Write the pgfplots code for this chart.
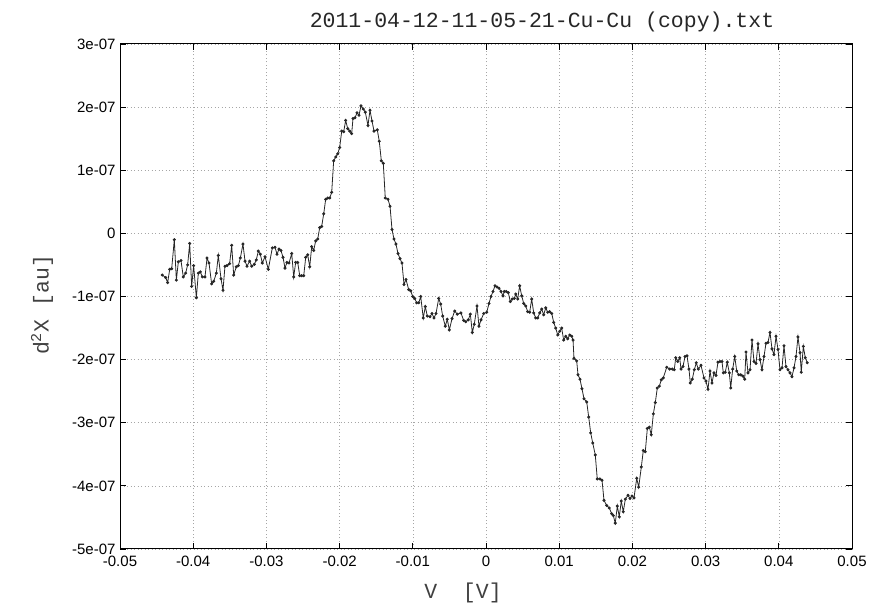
\documentclass[border=0pt]{standalone}
\usepackage{pgfplots}
\pgfplotsset{compat=1.18}
\usepackage{fontspec}
\setmainfont{Liberation Mono}
\newfontfamily\ticksf{Liberation Sans}
\pgfplotstableread{
x y
-0.04422 -0.66e-7
-0.04376 -0.70e-7
-0.04349 -0.78e-7
-0.04321 -0.57e-7
-0.04294 -0.56e-7
-0.04258 -0.10e-7
-0.04230 -0.74e-7
-0.04203 -0.45e-7
-0.04167 -0.43e-7
-0.04135 -0.69e-7
-0.04103 -0.63e-7
-0.04076 -0.50e-7
-0.04048 -0.16e-7
-0.04021 -0.84e-7
-0.03994 -0.51e-7
-0.03957 -1.02e-7
-0.03930 -0.63e-7
-0.03903 -0.61e-7
-0.03875 -0.69e-7
-0.03839 -0.69e-7
-0.03811 -0.39e-7
-0.03784 -0.47e-7
-0.03748 -0.80e-7
-0.03720 -0.76e-7
-0.03684 -0.63e-7
-0.03657 -0.35e-7
-0.03620 -0.72e-7
-0.03593 -0.90e-7
-0.03566 -0.52e-7
-0.03538 -0.51e-7
-0.03502 -0.48e-7
-0.03474 -0.19e-7
-0.03447 -0.66e-7
-0.03411 -0.53e-7
-0.03383 -0.51e-7
-0.03356 -0.39e-7
-0.03320 -0.17e-7
-0.03292 -0.44e-7
-0.03265 -0.52e-7
-0.03229 -0.44e-7
-0.03201 -0.52e-7
-0.03165 -0.49e-7
-0.03138 -0.42e-7
-0.03110 -0.28e-7
-0.03083 -0.33e-7
-0.03056 -0.47e-7
-0.03019 -0.37e-7
-0.02974 -0.57e-7
-0.02919 -0.23e-7
-0.02883 -0.22e-7
-0.02855 -0.33e-7
-0.02828 -0.25e-7
-0.02801 -0.27e-7
-0.02773 -0.38e-7
-0.02746 -0.55e-7
-0.02719 -0.46e-7
-0.02691 -0.47e-7
-0.02654 -0.32e-7
-0.02627 -0.69e-7
-0.02600 -0.46e-7
-0.02572 -0.46e-7
-0.02545 -0.67e-7
-0.02518 -0.67e-7
-0.02490 -0.67e-7
-0.02463 -0.38e-7
-0.02436 -0.34e-7
-0.02408 -0.53e-7
-0.02381 -0.21e-7
-0.02354 -0.27e-7
-0.02327 -0.12e-7
-0.02299 -0.09e-7
-0.02272 0.09e-7
-0.02245 0.11e-7
-0.02217 0.31e-7
-0.02190 0.54e-7
-0.02163 0.56e-7
-0.02135 0.56e-7
-0.02108 0.65e-7
-0.02081 1.15e-7
-0.02053 1.21e-7
-0.02026 1.26e-7
-0.01999 1.36e-7
-0.01971 1.62e-7
-0.01944 1.61e-7
-0.01917 1.79e-7
-0.01889 1.66e-7
-0.01862 1.62e-7
-0.01835 1.58e-7
-0.01817 1.82e-7
-0.01790 1.83e-7
-0.01762 1.91e-7
-0.01735 1.87e-7
-0.01708 2.02e-7
-0.01676 1.97e-7
-0.01649 1.92e-7
-0.01612 1.71e-7
-0.01585 1.95e-7
-0.01557 1.78e-7
-0.01530 1.62e-7
-0.01485 1.64e-7
-0.01458 1.46e-7
-0.01430 1.15e-7
-0.01403 1.11e-7
-0.01376 0.56e-7
-0.01339 0.54e-7
-0.01311 0.43e-7
-0.01284 0.06e-7
-0.01257 -0.09e-7
-0.01230 -0.17e-7
-0.01202 -0.32e-7
-0.01175 -0.40e-7
-0.01148 -0.47e-7
-0.01120 -0.81e-7
-0.01093 -0.73e-7
-0.01056 -0.89e-7
-0.01029 -0.91e-7
-0.01001 -1.00e-7
-0.00974 -1.03e-7
-0.00947 -1.10e-7
-0.00919 -1.10e-7
-0.00892 -1.00e-7
-0.00857 -1.34e-7
-0.00829 -1.16e-7
-0.00802 -1.31e-7
-0.00765 -1.32e-7
-0.00738 -1.27e-7
-0.00710 -1.34e-7
-0.00683 -1.27e-7
-0.00646 -1.03e-7
-0.00619 -1.12e-7
-0.00592 -1.31e-7
-0.00556 -1.47e-7
-0.00529 -1.36e-7
-0.00501 -1.53e-7
-0.00464 -1.35e-7
-0.00428 -1.23e-7
-0.00392 -1.28e-7
-0.00342 -1.26e-7
-0.00305 -1.38e-7
-0.00277 -1.40e-7
-0.00242 -1.37e-7
-0.00214 -1.28e-7
-0.00187 -1.57e-7
-0.00160 -1.44e-7
-0.00123 -1.15e-7
-0.00096 -1.47e-7
-0.00068 -1.37e-7
-0.00031 -1.27e-7
0.00010 -1.25e-7
0.00041 -1.11e-7
0.00068 -1.00e-7
0.00096 -0.92e-7
0.00123 -0.83e-7
0.00150 -0.85e-7
0.00178 -0.87e-7
0.00205 -0.92e-7
0.00232 -0.99e-7
0.00250 -0.92e-7
0.00277 -0.92e-7
0.00305 -0.94e-7
0.00332 -1.08e-7
0.00359 -1.04e-7
0.00387 -1.03e-7
0.00406 -0.96e-7
0.00433 -1.04e-7
0.00460 -0.83e-7
0.00488 -0.99e-7
0.00515 -1.11e-7
0.00542 -1.15e-7
0.00570 -1.24e-7
0.00597 -1.25e-7
0.00624 -1.04e-7
0.00652 -1.26e-7
0.00679 -1.34e-7
0.00706 -1.34e-7
0.00734 -1.26e-7
0.00761 -1.20e-7
0.00788 -1.29e-7
0.00816 -1.18e-7
0.00843 -1.25e-7
0.00870 -1.24e-7
0.00898 -1.27e-7
0.00925 -1.41e-7
0.00952 -1.50e-7
0.00980 -1.61e-7
0.01007 -1.55e-7
0.01034 -1.50e-7
0.01061 -1.69e-7
0.01089 -1.63e-7
0.01116 -1.67e-7
0.01143 -1.61e-7
0.01171 -1.63e-7
0.01189 -1.69e-7
0.01202 -1.98e-7
0.01239 -2.02e-7
0.01257 -2.24e-7
0.01284 -2.31e-7
0.01311 -2.46e-7
0.01339 -2.62e-7
0.01376 -2.67e-7
0.01403 -2.91e-7
0.01430 -3.16e-7
0.01458 -3.32e-7
0.01493 -3.51e-7
0.01520 -3.89e-7
0.01557 -3.89e-7
0.01585 -3.91e-7
0.01612 -4.23e-7
0.01649 -4.31e-7
0.01684 -4.35e-7
0.01717 -4.44e-7
0.01739 -4.47e-7
0.01766 -4.59e-7
0.01794 -4.32e-7
0.01821 -4.49e-7
0.01848 -4.24e-7
0.01876 -4.41e-7
0.01903 -4.21e-7
0.01940 -4.15e-7
0.01967 -4.20e-7
0.01995 -4.16e-7
0.02022 -4.19e-7
0.02059 -3.88e-7
0.02086 -4.02e-7
0.02122 -3.70e-7
0.02149 -3.44e-7
0.02176 -3.46e-7
0.02204 -3.09e-7
0.02231 -3.07e-7
0.02258 -3.19e-7
0.02286 -2.86e-7
0.02313 -2.68e-7
0.02340 -2.45e-7
0.02368 -2.42e-7
0.02395 -2.32e-7
0.02422 -2.29e-7
0.02469 -2.12e-7
0.02510 -2.15e-7
0.02545 -2.15e-7
0.02572 -2.16e-7
0.02592 -1.97e-7
0.02619 -2.03e-7
0.02646 -1.97e-7
0.02664 -2.15e-7
0.02691 -2.11e-7
0.02719 -1.95e-7
0.02746 -1.94e-7
0.02773 -2.15e-7
0.02791 -2.37e-7
0.02818 -2.31e-7
0.02846 -2.16e-7
0.02873 -2.05e-7
0.02900 -2.15e-7
0.02937 -2.09e-7
0.02978 -2.29e-7
0.03005 -2.34e-7
0.03033 -2.47e-7
0.03060 -2.18e-7
0.03087 -2.37e-7
0.03115 -2.21e-7
0.03142 -2.25e-7
0.03169 -2.04e-7
0.03197 -2.03e-7
0.03224 -2.03e-7
0.03242 -2.21e-7
0.03269 -2.20e-7
0.03296 -2.04e-7
0.03324 -2.21e-7
0.03343 -2.45e-7
0.03370 -2.15e-7
0.03398 -1.95e-7
0.03425 -2.18e-7
0.03452 -2.24e-7
0.03479 -2.24e-7
0.03507 -2.26e-7
0.03534 -2.31e-7
0.03552 -1.88e-7
0.03579 -2.21e-7
0.03607 -2.16e-7
0.03634 -1.69e-7
0.03661 -2.03e-7
0.03689 -2.06e-7
0.03716 -1.75e-7
0.03743 -2.00e-7
0.03770 -2.16e-7
0.03798 -1.95e-7
0.03825 -1.74e-7
0.03852 -1.73e-7
0.03880 -1.57e-7
0.03907 -1.83e-7
0.03934 -1.92e-7
0.03962 -1.63e-7
0.03989 -1.84e-7
0.04016 -2.16e-7
0.04044 -2.13e-7
0.04071 -1.78e-7
0.04098 -2.11e-7
0.04126 -2.16e-7
0.04153 -2.21e-7
0.04180 -2.27e-7
0.04208 -2.13e-7
0.04235 -1.95e-7
0.04262 -1.64e-7
0.04290 -1.89e-7
0.04307 -2.20e-7
0.04335 -1.79e-7
0.04362 -1.97e-7
0.04389 -2.05e-7
}\datatable
\begin{document}
\begin{tikzpicture}[x=1pt,y=1pt]
\path[use as bounding box] (0,0) rectangle (895,607);
\begin{axis}[
  at={(120pt,58pt)}, anchor=south west,
  scale only axis, width=732pt, height=505pt,
  xmin=-0.05, xmax=0.05, ymin=-5e-7, ymax=3e-7,
  xtick={-0.05,-0.04,-0.03,-0.02,-0.01,0,0.01,0.02,0.03,0.04,0.05},
  xticklabels={-0.05,-0.04,-0.03,-0.02,-0.01,0,0.01,0.02,0.03,0.04,0.05},
  ytick={-5e-7,-4e-7,-3e-7,-2e-7,-1e-7,0,1e-7,2e-7,3e-7},
  yticklabels={-5e-07,-4e-07,-3e-07,-2e-07,-1e-07,0,1e-07,2e-07,3e-07},
  scaled ticks=false,
  minor tick num=0,
  tick align=inside,
  major tick length=6pt,
  tick style={black, line width=0.8pt},
  axis line style={black, line width=1pt},
  ticklabel style={font=\ticksf\fontsize{15}{17}\selectfont, text=black},
  xticklabel style={yshift=-3pt},
  yticklabel style={xshift=-1pt},
  grid=major,
  major grid style={gray!70, line width=0.6pt, dash pattern=on 1pt off 2.5pt},
  clip=false,
]
\addplot[black!85, line width=0.8pt, mark=*, mark size=1.1pt, mark options={fill=black!85}] table[x=x,y=y] {\datatable};
\end{axis}
\node[font=\fontsize{21.5}{24}\selectfont, text=black!85] at (542,585) {2011-04-12-11-05-21-Cu-Cu (copy).txt};
\node[font=\fontsize{21.5}{24}\selectfont, text=black!75] at (463,14) {V\ \ [V]};
\node[font=\fontsize{21.5}{24}\selectfont, text=black!75, rotate=90] at (42,302) {d\textsuperscript{2}X [au]};
\end{tikzpicture}
\end{document}
